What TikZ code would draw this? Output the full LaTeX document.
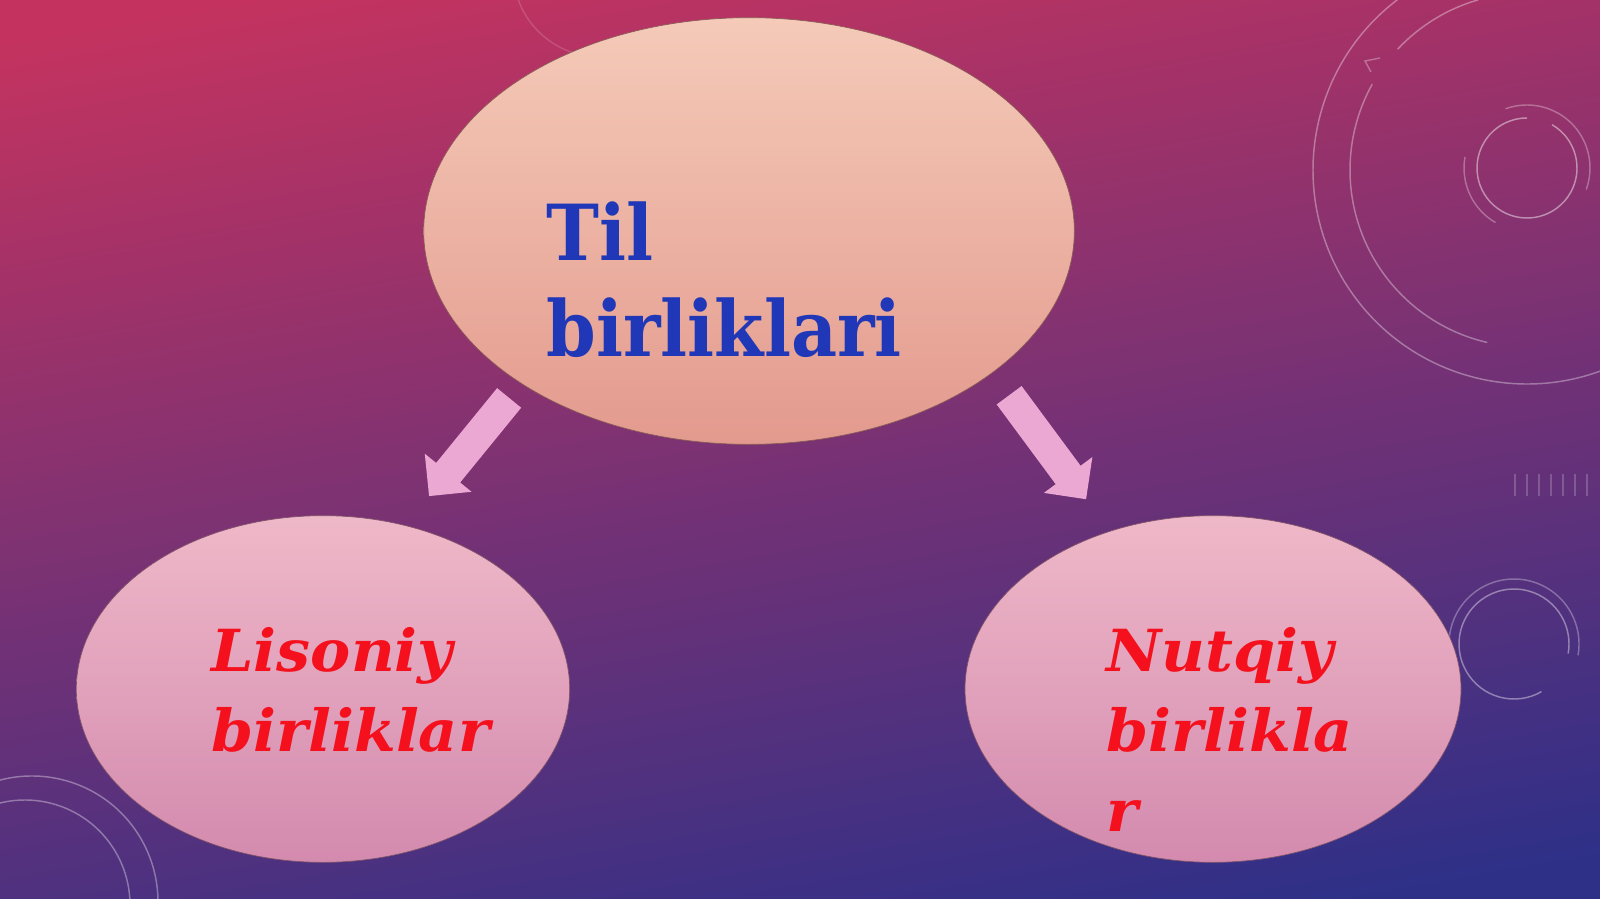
\documentclass[tikz,border=0pt]{standalone}
\usepackage{fontspec}
\usetikzlibrary{shapes.geometric,shapes.arrows}
\newfontfamily\slabfont[FakeStretch=0.92]{DejaVu Serif}
\newfontfamily\unitfont[FakeStretch=1.04]{DejaVu Serif}

\definecolor{bgtop}{HTML}{C4335F}
\definecolor{bgmid}{HTML}{7A3088}
\definecolor{bgbot}{HTML}{2E3088}
\definecolor{peachtop}{HTML}{F5CAB8}
\definecolor{peachbot}{HTML}{E39A8E}
\definecolor{rosetop}{HTML}{EFB8C8}
\definecolor{rosebot}{HTML}{D38AAE}
\definecolor{arrowpink}{HTML}{EBA8D2}
\definecolor{titleblue}{HTML}{2038B8}
\definecolor{unitred}{HTML}{F5101E}

\tikzset{every picture/.style={line width=0.75pt}}
\tikzset{
  unitellipse/.style={ellipse, inner sep=0pt, draw=#1!60!black, line width=0.5pt},
  blockarrow/.style={single arrow, fill=arrowpink, inner xsep=0pt, inner ysep=11.25pt,
    single arrow head extend=11pt, single arrow tip angle=90},
  ring/.style={draw=white, line width=1.1pt, opacity=#1},
  ring/.default=0.35,
  toptext/.style={anchor=north west, inner sep=0pt, align=left, text=titleblue,
    font=\slabfont\bfseries\fontsize{58}{72}\selectfont},
  unittext/.style={anchor=north west, inner sep=0pt, align=left, text=unitred,
    font=\unitfont\bfseries\itshape\fontsize{43.5}{60}\selectfont}
}

\begin{document}
\begin{tikzpicture}[x=0.75pt,y=0.75pt,yscale=-1,xscale=1]
	\useasboundingbox (0,0) rectangle (1600,899);
	
	% background
	\shade [top color=bgtop, middle color=bgmid, bottom color=bgbot, shading angle=10] (-40,-40) rectangle (1640,939);
	
	% decorative rings, right
	\draw [ring] (1527,170) ++(233:214) arc[start angle=233, end angle=65, radius=214];
	\draw [ring] (1527,170) ++(254:177) arc[start angle=254, end angle=223, radius=177];
	\draw [ring] (1527,170) ++(209:177) arc[start angle=209, end angle=103, radius=177];
	\draw [ring=0.3] (1380,58) -- (1365,61) -- (1371,72);
	\draw [ring=0.45] (1527,168) ++(-60:50) arc[start angle=-60, end angle=270, radius=50];
	\draw [ring=0.3] (1527,168) ++(250:63) arc[start angle=250, end angle=380, radius=63];
	\draw [ring=0.3] (1527,168) ++(120:63) arc[start angle=120, end angle=190, radius=63];
	\foreach \x in {1515,1527,1539,1551,1563,1575,1587}
		\draw [ring=0.2, line width=0.8pt] (\x,474) -- (\x,496);
	% decorative rings, bottom
	\draw [ring=0.3] (1514,644) ++(175:65) arc[start angle=175, end angle=370, radius=65];
	\draw [ring=0.4] (1514,644) ++(60:55) arc[start angle=60, end angle=370, radius=55];
	\draw [ring=0.35] (32,902) ++(238:126) arc[start angle=238, end angle=362, radius=126];
	\draw [ring=0.35] (25,905) ++(245:105) arc[start angle=245, end angle=362, radius=105];
	\draw [ring=0.15] (600,-30) ++(165:87) arc[start angle=165, end angle=95, radius=87];
	
	% ellipses
	\node [unitellipse=peachbot, top color=peachtop, bottom color=peachbot, minimum width=488pt, minimum height=320pt] (til) at (749,231) {};
	\node [unitellipse=rosebot, top color=rosetop, bottom color=rosebot, minimum width=370pt, minimum height=260pt] (lisoniy) at (323,689) {};
	\node [unitellipse=rosebot, top color=rosetop, bottom color=rosebot, minimum width=372pt, minimum height=260pt] (nutqiy) at (1213,689) {};
	
	% arrows
	\node [blockarrow, minimum height=95pt, rotate=-129.2] (arrL) at (474,441) {};
	\node [blockarrow, minimum height=97pt, rotate=-53.5] (arrR) at (1043,441) {};
	
	% labels
	\node [toptext] (tiltext) at (546,201) {Til\\birliklari};
	\node [unittext] (lisoniytext) at (211,627) {Lisoniy\\birliklar};
	\node [unittext] (nutqiytext) at (1106,627) {Nutqiy\\birlikla\\r};
	
\end{tikzpicture}
\end{document}
